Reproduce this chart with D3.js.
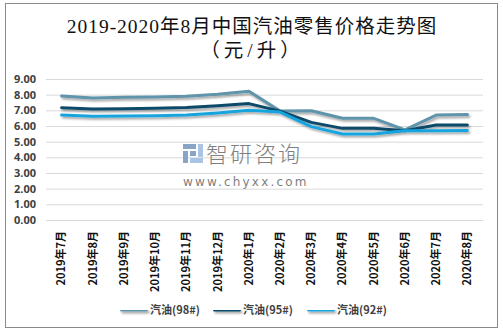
<!DOCTYPE html>
<html>
<head>
<meta charset="utf-8">
<script src="https://cdn.jsdelivr.net/npm/d3@7"></script>
<style>
  body { margin: 0; background: #fff; }
  svg { display: block; }
</style>
</head>
<body>
<svg id="chart"></svg>
<script>
var width = 503, height = 332;

// monthly categories and retail prices (yuan per litre)
var months = ["2019年7月", "2019年8月", "2019年9月", "2019年10月", "2019年11月", "2019年12月",
  "2020年1月", "2020年2月", "2020年3月", "2020年4月", "2020年5月", "2020年6月", "2020年7月", "2020年8月"];
var seriesNames = ["汽油(98#)", "汽油(95#)", "汽油(92#)"];
var price98 = [7.91, 7.79, 7.83, 7.85, 7.90, 8.03, 8.22, 6.95, 6.97, 6.49, 6.49, 5.75, 6.70, 6.74];
var price95 = [7.17, 7.08, 7.10, 7.14, 7.18, 7.30, 7.43, 6.95, 6.23, 5.85, 5.85, 5.70, 6.06, 6.06];
var price92 = [6.70, 6.62, 6.64, 6.66, 6.70, 6.83, 7.00, 6.89, 5.96, 5.49, 5.49, 5.70, 5.70, 5.72];
var yTicks = [0, 1, 2, 3, 4, 5, 6, 7, 8, 9];

var colors = ["#5e94ab", "#0d4a67", "#18a4de"];
var series = [price98, price95, price92];

var svg = d3.select('#chart')
  .attr('width', width)
  .attr('height', height);

var defs = svg.append('defs');
var shadow = defs.append('filter').attr('id', 'shadow')
  .attr('filterUnits', 'userSpaceOnUse')
  .attr('x', 0).attr('y', 0).attr('width', width).attr('height', height);
shadow.append('feDropShadow')
  .attr('dx', 1.5).attr('dy', 2).attr('stdDeviation', 1.3)
  .attr('flood-color', '#000').attr('flood-opacity', 0.35);

// outer frame
svg.append('rect')
  .attr('x', 5.5).attr('y', 3.5)
  .attr('width', 492).attr('height', 324)
  .attr('fill', '#fff')
  .attr('stroke', '#8a8a8a')
  .attr('stroke-width', 1);

// title
var title = svg.append('text')
  .attr('text-anchor', 'middle')
  .attr('fill', '#111')
  .style('font-family', '"Liberation Serif", "Noto Sans CJK SC", serif')
  .style('font-size', '19.5px');
title.append('tspan').attr('x', 252).attr('y', 33)
  .style('letter-spacing', '1px')
  .text('2019-2020年8月中国汽油零售价格走势图');
title.append('tspan').attr('x', 252).attr('y', 57)
  .style('letter-spacing', '4px')
  .text('（元/升）');

var plot = { left: 46, right: 483, top: 79, bottom: 220 };

var x = d3.scaleBand()
  .domain(months)
  .range([plot.left, plot.right]);

var y = d3.scaleLinear()
  .domain([0, 9])
  .range([plot.bottom, plot.top]);

// gridlines
svg.append('g')
  .selectAll('line')
  .data(yTicks)
  .enter()
  .append('line')
  .attr('x1', plot.left).attr('x2', plot.right)
  .attr('y1', function(d) { return y(d) + 0.5; })
  .attr('y2', function(d) { return y(d) + 0.5; })
  .attr('stroke', '#d9d9d9')
  .attr('stroke-width', 1);

// y axis labels
var yAxis = svg.append('g')
  .attr('transform', 'translate(' + (plot.left - 10) + ',0)')
  .call(d3.axisLeft(y).tickValues(yTicks).tickSize(0).tickPadding(0)
    .tickFormat(function(d) { return d.toFixed(2); }));
yAxis.select('.domain').remove();
yAxis.selectAll('text')
  .attr('fill', '#404040')
  .style('font-family', '"Open Sans", "Noto Sans", sans-serif')
  .style('font-size', '11px')
  .style('font-weight', 'bold');

// x axis labels, rotated
var xAxis = svg.append('g')
  .attr('transform', 'translate(0,' + plot.bottom + ')')
  .call(d3.axisBottom(x).tickSize(0).tickPadding(0));
xAxis.select('.domain').remove();
xAxis.selectAll('text')
  .attr('transform', 'rotate(-90)')
  .attr('x', -11)
  .attr('y', 0)
  .attr('dy', '0.35em')
  .attr('text-anchor', 'end')
  .attr('fill', '#111')
  .style('font-family', '"Noto Sans CJK SC", sans-serif')
  .style('font-size', '11px')
  .style('font-weight', 'bold');

// watermark
var mark = svg.append('g').attr('fill', '#808080');
var logo = mark.append('g').attr('transform', 'translate(183,144)');
logo.append('rect').attr('x', 0).attr('y', 0).attr('width', 13).attr('height', 5).attr('fill', '#8aa4c8');
logo.append('rect').attr('x', 0).attr('y', 7).attr('width', 5).attr('height', 12).attr('fill', '#8aa4c8');
logo.append('rect').attr('x', 7).attr('y', 7).attr('width', 6).attr('height', 5).attr('fill', '#8aa4c8');
logo.append('rect').attr('x', 15).attr('y', 0).attr('width', 5).attr('height', 13).attr('fill', '#a9c4e4');
logo.append('rect').attr('x', 7).attr('y', 14).attr('width', 13).attr('height', 5).attr('fill', '#a9c4e4');
mark.append('text')
  .attr('x', 206).attr('y', 162)
  .style('font-family', '"Noto Sans CJK SC", sans-serif')
  .style('font-size', '22px')
  .style('font-weight', '300')
  .style('letter-spacing', '2px')
  .text('智研咨询');
mark.append('text')
  .attr('x', 183).attr('y', 186)
  .style('font-family', '"DejaVu Sans", sans-serif')
  .style('font-size', '12px')
  .style('letter-spacing', '2.2px')
  .text('www.chyxx.com');

// price lines
var line = d3.line()
  .x(function(d, i) { return x(months[i]) + x.bandwidth() / 2; })
  .y(function(d) { return y(d); });

svg.append('g')
  .attr('filter', 'url(#shadow)')
  .selectAll('path')
  .data(series)
  .enter()
  .append('path')
  .attr('d', line)
  .attr('fill', 'none')
  .attr('stroke', function(d, i) { return colors[i]; })
  .attr('stroke-width', 3)
  .attr('stroke-linejoin', 'round')
  .attr('stroke-linecap', 'round');

// legend
var legendX = [120, 213, 307];
var legend = svg.append('g')
  .selectAll('g')
  .data(seriesNames)
  .enter()
  .append('g')
  .attr('transform', function(d, i) { return 'translate(' + legendX[i] + ',310)'; });
legend.append('rect')
  .attr('x', 0).attr('y', -1.5)
  .attr('width', 28).attr('height', 3)
  .attr('rx', 1.5)
  .attr('fill', function(d, i) { return colors[i]; })
  .attr('filter', 'url(#shadow)');
legend.append('text')
  .attr('x', 30).attr('y', 0)
  .attr('dy', '0.35em')
  .attr('fill', '#404040')
  .style('font-family', '"Noto Sans CJK SC", sans-serif')
  .style('font-size', '11px')
  .style('font-weight', 'bold')
  .text(function(d) { return d; });
</script>
</body>
</html>
